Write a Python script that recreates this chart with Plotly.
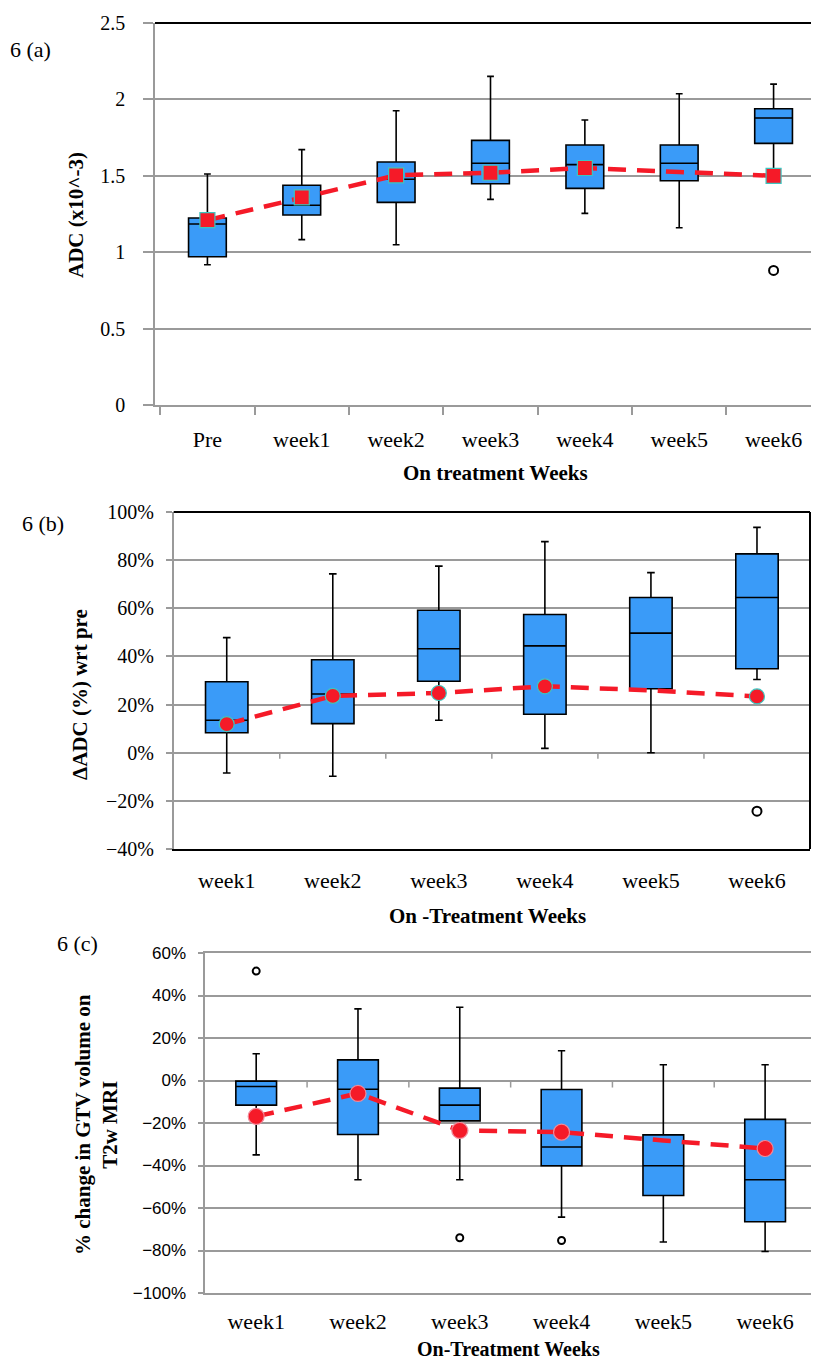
import plotly.graph_objects as go

W, H = 819, 1365

# ---------------- data ----------------
cats_a = ["Pre", "week1", "week2", "week3", "week4", "week5", "week6"]
a_low = [0.918, 1.082, 1.049, 1.346, 1.254, 1.160, 1.500]
a_q1 = [0.970, 1.243, 1.326, 1.448, 1.418, 1.468, 1.712]
a_med = [1.185, 1.307, 1.477, 1.582, 1.573, 1.582, 1.878]
a_q3 = [1.224, 1.438, 1.590, 1.732, 1.702, 1.702, 1.939]
a_high = [1.512, 1.671, 1.926, 2.151, 1.865, 2.037, 2.100]
a_mean = [1.21, 1.359, 1.503, 1.52, 1.551, 1.525, 1.50]
a_out_x = ["week6"]
a_out_y = [0.881]

cats_b = ["week1", "week2", "week3", "week4", "week5", "week6"]
b_low = [-8.4, -9.8, 13.5, 1.8, 0.0, 30.4]
b_q1 = [8.3, 12.1, 29.7, 16.0, 26.6, 34.9]
b_med = [13.5, 24.4, 43.2, 44.4, 49.7, 64.5]
b_q3 = [29.5, 38.6, 59.2, 57.4, 64.5, 82.6]
b_high = [47.8, 74.3, 77.5, 87.7, 74.8, 93.6]
b_mean = [11.9, 23.6, 24.8, 27.6, 25.9, 23.4]
b_out_x = ["week6"]
b_out_y = [-24.3]

cats_c = ["week1", "week2", "week3", "week4", "week5", "week6"]
c_low = [-35.0, -46.7, -46.7, -64.3, -76.0, -80.5]
c_q1 = [-11.6, -25.4, -19.0, -40.1, -54.1, -66.5]
c_med = [-2.8, -4.1, -11.6, -31.3, -40.1, -46.7]
c_q3 = [-0.3, 9.7, -3.6, -4.2, -25.6, -18.3]
c_high = [12.6, 33.7, 34.5, 14.0, 7.4, 7.4]
c_mean = [-16.9, -6.1, -23.5, -24.3, -28.2, -32.0]
c_out_x = ["week1", "week3", "week4"]
c_out_y = [51.5, -74.0, -75.3]

# ---------------- styles ----------------
BOX_FILL = "#3A9BF8"
RED = "#F51A28"
GRID = "#9A9A9A"
SERIF = "Times New Roman, Liberation Serif, serif"
SANS = "Liberation Sans, Arial, sans-serif"


def px_x(p):
    return p / W


def px_y(p):
    return 1 - p / H


fig = go.Figure()


def add_panel(cats, low, q1, med, q3, high, mean, ox, oy, xa, ya, symbol, mborder, msize, osize):
    fig.add_trace(go.Box(
        x=cats, q1=q1, median=med, q3=q3, lowerfence=low, upperfence=high,
        boxpoints=False, fillcolor=BOX_FILL, line=dict(color="black", width=1.6),
        whiskerwidth=0.18, width=0.4, xaxis=xa, yaxis=ya, hoverinfo="skip",
    ))
    sizes = [0 if c == "week5" else msize for c in cats]
    fig.add_trace(go.Scatter(
        x=cats, y=mean, mode="lines+markers", xaxis=xa, yaxis=ya,
        line=dict(color=RED, width=4.5, dash="18px,11px"),
        marker=dict(symbol=symbol, size=sizes, color=RED, opacity=1,
                    line=dict(color=mborder, width=1.2)),
    ))
    fig.add_trace(go.Scatter(
        x=ox, y=oy, mode="markers", xaxis=xa, yaxis=ya,
        marker=dict(symbol="circle-open", size=osize, color="black",
                    line=dict(color="black", width=2)),
    ))


add_panel(cats_a, a_low, a_q1, a_med, a_q3, a_high, a_mean, a_out_x, a_out_y,
          "x", "y", "square", "#3CC6C0", 15, 9)
add_panel(cats_b, b_low, b_q1, b_med, b_q3, b_high, b_mean, b_out_x, b_out_y,
          "x2", "y2", "circle", "#3CC6C0", 15, 9)
add_panel(cats_c, c_low, c_q1, c_med, c_q3, c_high, c_mean, c_out_x, c_out_y,
          "x3", "y3", "circle", "#F08A9A", 16, 7)

# ---------------- axes ----------------
common_x = dict(type="category", showgrid=False, zeroline=False, fixedrange=True,
                automargin=False)

fig.update_layout(
    width=W, height=H, margin=dict(l=0, r=0, t=0, b=0, autoexpand=False),
    paper_bgcolor="white", plot_bgcolor="white", showlegend=False,
    # panel a
    xaxis=dict(**common_x, domain=[px_x(147), px_x(818)], anchor="y",
               showline=True, linecolor=GRID, linewidth=1.5,
               tickson="boundaries", ticks="outside", ticklen=8, tickcolor=GRID, tickwidth=1.5,
               tickfont=dict(family=SERIF, size=22, color="black"), ticklabelstandoff=14),
    yaxis=dict(domain=[px_y(397), px_y(15)], anchor="x", range=[0, 2.5], dtick=0.5,
               showgrid=True, gridcolor=GRID, gridwidth=1.5,
               showline=True, linecolor=GRID, linewidth=1.5, zeroline=False,
               ticks="outside", ticklen=10, tickcolor=GRID, tickwidth=1.5,
               tickfont=dict(family=SERIF, size=20, color="black"), ticklabelstandoff=14,
               fixedrange=True, automargin=False),
    # panel b
    xaxis2=dict(**common_x, domain=[px_x(165.7), px_x(802)], anchor="y2",
                showline=True, linecolor="black", linewidth=2, ticks="",
                tickfont=dict(family=SERIF, size=22, color="black"), ticklabelstandoff=11),
    yaxis2=dict(domain=[px_y(841), px_y(504)], anchor="x2", range=[-40, 100], dtick=20,
                ticksuffix="%", showgrid=True, gridcolor=GRID, gridwidth=1.5,
                showline=True, linecolor=GRID, linewidth=1.5, zeroline=False,
                ticks="outside", ticklen=6, tickcolor=GRID, tickwidth=1.5,
                tickfont=dict(family=SERIF, size=20, color="black"), ticklabelstandoff=8,
                fixedrange=True, automargin=False),
    # panel c
    xaxis3=dict(**common_x, domain=[px_x(197.3), px_x(808)], anchor="y3",
                showline=True, mirror=True, linecolor=GRID, linewidth=1.5, ticks="",
                tickfont=dict(family=SERIF, size=22, color="black"), ticklabelstandoff=8),
    yaxis3=dict(domain=[px_y(1285), px_y(945)], anchor="x3", range=[-100, 60], dtick=20,
                ticksuffix="%", showgrid=True, gridcolor=GRID, gridwidth=1.5,
                showline=True, mirror=True, linecolor=GRID, linewidth=1.5, zeroline=False,
                ticks="outside", ticklen=6, tickcolor=GRID, tickwidth=1.5,
                tickfont=dict(family=SANS, size=17, color="black"), ticklabelstandoff=8,
                fixedrange=True, automargin=False),
)

# ---------------- frame lines ----------------
shapes = []
for xr, yr in [("x", "y"), ("x2", "y2")]:
    shapes.append(dict(type="line", xref=f"{xr} domain", yref=f"{yr} domain",
                       x0=0, x1=1, y0=1, y1=1, line=dict(color="black", width=2)))
    shapes.append(dict(type="line", xref=f"{xr} domain", yref=f"{yr} domain",
                       x0=1, x1=1, y0=0, y1=1, line=dict(color="black", width=2)))

# tick marks on the 0% line (panels b and c)
for xr, yr, cats, tl in [("x2", "y2", cats_b, 2.5), ("x3", "y3", cats_c, 3.3)]:
    for i in range(1, len(cats)):
        shapes.append(dict(type="line", xref=xr, yref=yr, x0=i - 0.5, x1=i - 0.5,
                           y0=0, y1=-tl, line=dict(color=GRID, width=1.5)))
fig.update_layout(shapes=shapes)

# ---------------- text ----------------
ann = []


def txt(text, x, y, size, bold=False, angle=0, family=SERIF, xanchor="center"):
    ann.append(dict(text=f"<b>{text}</b>" if bold else text, x=px_x(x), y=px_y(y),
                    xref="paper", yref="paper", showarrow=False, textangle=angle,
                    xanchor=xanchor, yanchor="middle",
                    font=dict(family=family, size=size, color="black")))


txt("6 (a)", 0, 41, 22, xanchor="left")
txt("6 (b)", 12, 515, 22, xanchor="left")
txt("6 (c)", 47, 935, 22, xanchor="left")
txt("On treatment Weeks", 487, 465, 21, bold=True)
txt("On -Treatment Weeks", 479, 908, 21, bold=True)
txt("On-Treatment Weeks", 500, 1341, 20, bold=True)
txt("ADC (x10^-3)", 68, 207, 21, bold=True, angle=-90)
txt("ΔADC (%) wrt pre", 72, 687, 21, bold=True, angle=-90)
txt("% change in GTV volume on<br>T2w MRI", 88, 1117, 21, bold=True, angle=-90)
fig.update_layout(annotations=ann)

fig.write_html("out.html")
